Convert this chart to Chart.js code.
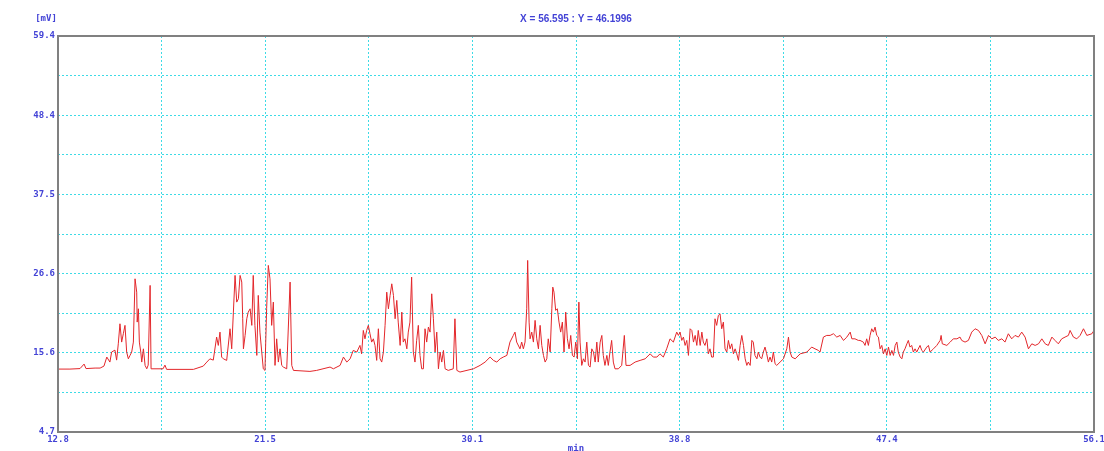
<!DOCTYPE html>
<html>
<head>
<meta charset="utf-8">
<script src="https://cdn.jsdelivr.net/npm/chart.js@4"></script>
<style>
  html, body { margin: 0; padding: 0; background: #fff; }
  #wrap { width: 1104px; height: 451px; }
</style>
</head>
<body>
<div id="wrap"><canvas id="chromChart"></canvas></div>
<script>
const timeMin = [
  12.80, 13.30, 13.72, 13.89, 13.97, 14.35, 14.56, 14.72, 14.84, 14.97, 15.04, 15.18, 15.25, 15.32, 15.39, 15.46,
  15.53, 15.60, 15.67, 15.74, 15.81, 15.88, 15.95, 16.02, 16.09, 16.11, 16.16, 16.20, 16.26, 16.30, 16.37, 16.44,
  16.51, 16.57, 16.65, 16.69, 17.19, 17.27, 17.34, 18.46, 18.87, 19.02, 19.15, 19.29, 19.43, 19.50, 19.57, 19.64,
  19.71, 19.85, 19.99, 20.06, 20.13, 20.20, 20.27, 20.34, 20.41, 20.48, 20.52, 20.55, 20.62, 20.69, 20.75, 20.83,
  20.90, 20.96, 21.03, 21.11, 21.17, 21.24, 21.38, 21.45, 21.52, 21.59, 21.66, 21.73, 21.80, 21.87, 21.94, 22.01,
  22.08, 22.15, 22.22, 22.36, 22.50, 22.57, 22.64, 23.33,
  23.61, 24.17, 24.31, 24.59, 24.73, 24.87, 25.01, 25.14, 25.29, 25.42, 25.49, 25.56, 25.63, 25.70, 25.77, 25.84,
  25.91, 25.98, 26.05, 26.12, 26.19, 26.26, 26.33, 26.40, 26.47, 26.54, 26.61, 26.68, 26.75, 26.82, 26.89, 26.96,
  27.02, 27.10, 27.17, 27.23, 27.30, 27.38, 27.44, 27.51, 27.58, 27.65, 27.72, 27.79, 27.86, 27.93, 28.00, 28.07,
  28.14, 28.21, 28.28, 28.35, 28.42, 28.49, 28.56, 28.63, 28.70, 28.77, 28.84, 28.91, 28.98, 29.11, 29.32, 29.39,
  29.47, 29.60, 30.16, 30.44, 30.65, 30.86, 31.00, 31.14, 31.28, 31.41, 31.56, 31.69, 31.83, 31.90, 31.97, 32.11,
  32.18, 32.25, 32.32, 32.39, 32.43, 32.49, 32.53, 32.60, 32.67, 32.74, 32.81, 32.88, 32.95, 33.02, 33.09, 33.16,
  33.23, 33.29, 33.37, 33.44, 33.48, 33.53, 33.60, 33.67, 33.74, 33.81, 33.88, 33.95, 34.02, 34.09, 34.16, 34.23,
  34.30, 34.37, 34.44, 34.51, 34.57, 34.62, 34.69, 34.76, 34.83, 34.90, 34.97, 35.04, 35.11, 35.18, 35.25, 35.32,
  35.38, 35.46, 35.53, 35.59, 35.66, 35.74, 35.80, 35.87, 35.94, 36.01, 36.08, 36.22, 36.36, 36.47, 36.54, 36.71,
  36.92, 37.13, 37.34, 37.55, 37.68, 37.83, 37.96,
  38.10, 38.24, 38.38, 38.52, 38.66, 38.73, 38.80, 38.87, 38.94, 39.01, 39.08, 39.15, 39.22, 39.29, 39.36, 39.43,
  39.50, 39.56, 39.64, 39.71, 39.77, 39.84, 39.92, 39.98, 40.05, 40.12, 40.19, 40.26, 40.33, 40.40, 40.47, 40.54,
  40.61, 40.68, 40.75, 40.82, 40.89, 40.96, 41.03, 41.10, 41.17, 41.24, 41.31, 41.38, 41.45, 41.52, 41.59, 41.65,
  41.73, 41.80, 41.86, 41.93, 42.01, 42.07, 42.14, 42.21, 42.28, 42.35, 42.42, 42.49, 42.56, 42.63, 42.70, 42.77,
  42.84, 42.98, 43.12, 43.26, 43.33, 43.40, 43.47, 43.61, 43.82, 44.10, 44.30, 44.44, 44.58, 44.65, 44.79, 44.93,
  45.07, 45.21, 45.35, 45.49, 45.63, 45.77, 45.91, 45.98, 46.11, 46.25,
  46.32, 46.46, 46.53, 46.60, 46.67, 46.74, 46.81, 46.88, 46.95, 47.02, 47.09, 47.16, 47.23, 47.30, 47.37, 47.44,
  47.51, 47.58, 47.65, 47.72, 47.79, 47.86, 47.92, 48.00, 48.07, 48.13, 48.20, 48.28, 48.34, 48.41, 48.48, 48.55,
  48.62, 48.69, 48.83, 48.90, 48.97, 49.11, 49.18, 49.25, 49.39, 49.53, 49.67, 49.71, 49.76, 49.95, 50.09, 50.22,
  50.37, 50.50, 50.57, 50.71, 50.85, 50.99, 51.13, 51.27, 51.41, 51.55, 51.69, 51.83, 51.97, 52.10, 52.25, 52.38,
  52.52, 52.66, 52.80, 52.94, 53.08, 53.22, 53.36, 53.50, 53.64, 53.78, 53.92, 54.06, 54.19, 54.34, 54.47, 54.61,
  54.75, 54.89, 55.03, 55.10, 55.24, 55.38, 55.52, 55.66, 55.80, 56.01, 56.10
];
const signalMv = [
  13.39, 13.39, 13.46, 14.08, 13.46, 13.53, 13.53, 13.80, 15.05, 14.36, 15.74, 16.01, 14.63, 16.88, 19.65, 17.12,
  18.27, 19.43, 15.74, 14.81, 15.28, 15.74, 17.12, 25.86, 24.02, 19.88, 21.72, 17.12, 15.74, 14.36, 16.19, 13.90,
  13.43, 13.94, 24.95, 13.43, 13.43, 13.94, 13.35, 13.35, 13.80, 14.36, 14.81, 14.63, 17.81, 16.66, 18.50, 15.05,
  14.81, 14.59, 18.96, 16.19, 21.26, 26.33, 22.64, 23.10, 26.33, 25.41, 20.34, 16.19, 18.04, 20.34, 21.26, 21.72,
  19.43, 26.33, 19.43, 15.28, 23.57, 18.50, 13.43, 13.21, 21.72, 27.71, 25.86, 19.43, 22.64, 13.90, 17.57, 14.36,
  16.19, 13.90, 13.67, 13.43, 25.41, 13.90, 13.21, 13.07,
  13.21, 13.67, 13.43, 13.90, 15.05, 14.36, 14.81, 15.97, 15.74, 16.66, 15.50, 18.73, 17.57, 18.73, 19.43, 18.27,
  17.12, 17.57, 16.66, 14.59, 18.96, 14.81, 14.36, 15.74, 19.43, 24.02, 21.72, 23.57, 25.17, 23.57, 20.34, 22.88,
  19.88, 16.66, 21.26, 17.12, 17.57, 16.19, 18.50, 19.88, 26.10, 15.74, 14.36, 17.35, 19.43, 15.28, 13.43, 13.43,
  18.96, 17.12, 19.19, 18.50, 23.79, 20.34, 15.74, 18.50, 13.43, 15.74, 14.36, 15.97, 13.43, 13.21, 13.43, 20.34,
  13.21, 12.98, 13.43, 13.90, 14.36, 15.05, 14.59, 14.36, 14.81, 15.05, 15.28, 17.12, 18.04, 18.50, 17.12, 16.19,
  17.12, 16.19, 17.12, 21.72, 28.40, 19.88, 17.57, 18.50, 17.12, 20.12, 17.57, 16.19, 19.43, 16.66, 15.28, 14.36,
  14.81, 17.57, 15.74, 21.72, 24.71, 24.02, 21.50, 21.72, 19.88, 18.50, 19.88, 15.74, 21.26, 17.57, 16.19, 18.04,
  15.28, 15.05, 17.12, 14.81, 22.64, 17.12, 13.90, 14.81, 14.36, 17.12, 13.90, 13.67, 16.19, 15.74, 14.36, 17.12,
  14.36, 17.12, 18.04, 15.28, 13.90, 15.28, 13.90, 15.74, 17.35, 14.36, 13.43, 13.43, 13.90, 18.04, 13.90, 13.90,
  14.36, 14.59, 14.81, 15.50, 15.05, 15.05, 15.50,
  15.05, 16.19, 17.57, 17.12, 18.50, 18.04, 18.50, 17.35, 17.81, 16.66, 17.35, 15.28, 18.96, 18.73, 17.12, 18.04,
  16.66, 18.73, 16.66, 18.50, 17.12, 16.66, 17.57, 15.50, 16.19, 15.05, 15.05, 20.34, 19.43, 20.81, 21.03, 18.96,
  19.88, 16.19, 15.74, 17.35, 16.19, 16.88, 15.50, 16.19, 15.50, 14.59, 16.66, 18.04, 16.66, 14.81, 13.90, 14.36,
  13.90, 17.35, 17.12, 15.28, 14.81, 15.74, 15.05, 14.81, 15.74, 16.43, 15.50, 14.36, 15.05, 14.36, 15.74, 14.12,
  13.90, 14.36, 14.81, 16.19, 17.81, 15.74, 15.05, 14.81, 15.50, 15.74, 16.43, 16.19, 15.97, 15.74, 17.81, 18.04,
  18.04, 18.27, 17.81, 18.04, 17.35, 17.81, 18.50, 17.57, 17.57, 17.35,
  17.35, 17.12, 16.66, 17.57, 16.66, 18.04, 18.96, 18.50, 19.19, 18.04, 17.81, 16.19, 16.66, 15.50, 16.19, 15.28,
  16.43, 15.28, 15.97, 15.28, 16.66, 17.12, 15.74, 15.05, 14.81, 15.74, 16.19, 16.88, 17.35, 16.43, 16.66, 15.74,
  16.19, 15.74, 16.66, 15.97, 15.74, 16.43, 16.66, 15.74, 16.19, 16.66, 17.35, 18.04, 16.88, 16.66, 17.12, 17.57,
  17.57, 17.81, 17.35, 17.12, 17.35, 18.50, 18.96, 18.73, 18.04, 16.88, 18.04, 17.57, 17.81, 17.35, 17.57, 17.12,
  18.27, 17.57, 18.04, 17.81, 18.50, 17.81, 16.19, 16.88, 16.66, 16.88, 17.57, 16.88, 16.66, 17.81, 17.35, 16.88,
  17.57, 17.81, 18.04, 18.73, 17.81, 17.57, 18.04, 18.96, 18.04, 18.27, 18.73
];

// ---- ejes ----
const xGrid = [12.8, 17.13, 21.46, 25.79, 30.12, 34.45, 38.78, 43.11, 47.44, 51.77, 56.1];
const xTickLabels = ["12.8", "", "21.5", "", "30.1", "", "38.8", "", "47.4", "", "56.1"];
const yGrid = [4.7, 10.17, 15.64, 21.11, 26.58, 32.05, 37.52, 42.99, 48.46, 53.93, 59.4];
const yTickLabels = ["4.7", "", "15.6", "", "26.6", "", "37.5", "", "48.4", "", "59.4"];
const cursorText = "X = 56.595 : Y = 46.1996";
const yUnit = "[mV]";
const xUnit = "min";

const azul = "#4343d6";
const cian = "#3ddbe6";
const tickFont = { family: "DejaVu Sans Mono", size: 9, weight: "bold" };

// marco gris y textos sueltos
const marcoPlugin = {
  id: "marco",
  afterDraw(chart) {
    const { ctx, chartArea: a } = chart;
    ctx.save();
    ctx.strokeStyle = "#808080";
    ctx.lineWidth = 2;
    ctx.strokeRect(a.left, a.top, a.right - a.left, a.bottom - a.top);

    ctx.fillStyle = azul;
    ctx.textBaseline = "middle";
    ctx.textAlign = "center";
    ctx.font = "bold 10px 'Liberation Sans'";
    ctx.fillText(cursorText, (a.left + a.right) / 2, 19);
    ctx.font = "bold 9px 'DejaVu Sans Mono'";
    ctx.fillText(yUnit, 46, 19);
    ctx.fillText(xUnit, (a.left + a.right) / 2, 449);
    ctx.restore();
  },
};

const puntos = timeMin.map((t, i) => ({ x: t, y: signalMv[i] }));

new Chart(document.getElementById("chromChart"), {
  type: "line",
  data: {
    datasets: [
      {
        data: puntos,
        borderColor: "#e3262a",
        borderWidth: 1,
        pointRadius: 0,
        tension: 0,
      },
    ],
  },
  options: {
    responsive: true,
    maintainAspectRatio: false,
    animation: false,
    layout: { padding: { top: 36, right: 10, left: 0, bottom: 0 } },
    plugins: { legend: { display: false }, tooltip: { enabled: false } },
    scales: {
      x: {
        type: "linear",
        min: 12.8,
        max: 56.1,
        afterBuildTicks: (s) => { s.ticks = xGrid.map((v) => ({ value: v })); },
        afterFit: (s) => {
          s.height = 19;
          s.paddingLeft = 0;
          s.paddingRight = 0;
        },
        ticks: {
          autoSkip: false,
          maxRotation: 0,
          padding: 2,
          color: azul,
          font: tickFont,
          callback: (v, i) => xTickLabels[i],
        },
        grid: { color: cian, lineWidth: 1, drawTicks: false },
        border: { display: false, dash: [2, 2] },
      },
      y: {
        min: 4.7,
        max: 59.4,
        afterBuildTicks: (s) => { s.ticks = yGrid.map((v) => ({ value: v })); },
        afterFit: (s) => { s.width = 58; },
        ticks: {
          autoSkip: false,
          padding: 3,
          color: azul,
          font: tickFont,
          callback: (v, i) => yTickLabels[i],
        },
        grid: { color: cian, lineWidth: 1, drawTicks: false },
        border: { display: false, dash: [2, 2] },
      },
    },
  },
  plugins: [marcoPlugin],
});
</script>
</body>
</html>
